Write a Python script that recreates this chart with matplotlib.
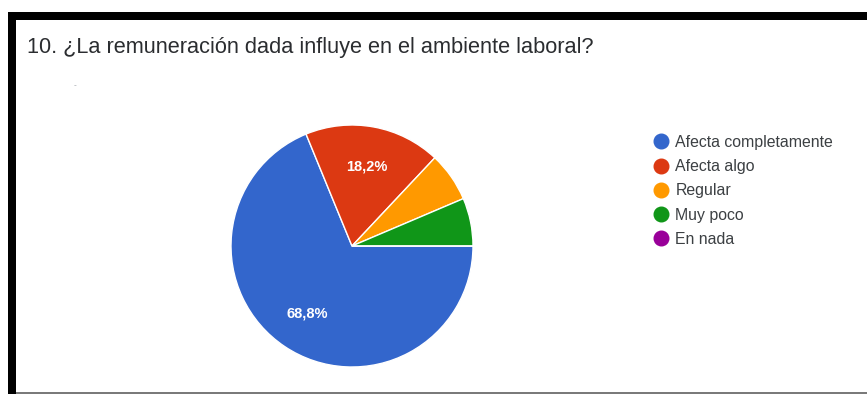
import numpy as np
import matplotlib.pyplot as plt
from matplotlib.lines import Line2D
from matplotlib.patches import Rectangle

plt.rcParams['font.family'] = ['Liberation Sans', 'DejaVu Sans']

TITLE = "10. ¿La remuneración dada influye en el ambiente laboral?"
categories = ["Afecta completamente", "Afecta algo", "Regular", "Muy poco", "En nada"]
percentages = [68.8, 18.2, 6.6, 6.4, 0.0]
shown_labels = ["68,8%", "18,2%", "", "", ""]
colors = ["#3366cc", "#dc3912", "#ff9900", "#109618", "#990099"]

W, H = 867, 394
fig = plt.figure(figsize=(W / 100, H / 100), dpi=100)
fig.patch.set_facecolor("white")

# frame around the card: thick black top and left edges, thin grey bottom
frame = fig.add_axes([0, 0, 1, 1])
frame.set_xlim(0, W)
frame.set_ylim(H, 0)
frame.axis("off")
frame.add_patch(Rectangle((8, 12), W - 8, 8, color="black", lw=0))
frame.add_patch(Rectangle((8, 12), 8, H - 12, color="black", lw=0))
frame.add_patch(Rectangle((16, 391.5), W - 16, 2.5, color="#7a7a7a", lw=0))

fig.text(27 / W, 1 - 48 / H, TITLE, fontsize=15.7, color="#2b2d30",
         va="center", ha="left")
fig.text(75 / W, 1 - 86 / H, "-", fontsize=6, color="#9aa0a6",
         va="center", ha="center")

# pie, starting at 3 o'clock and going clockwise
cx, cy, r = 352, 246, 121
ax = fig.add_axes([(cx - r) / W, 1 - (cy + r) / H, 2 * r / W, 2 * r / H])
wedges, _ = ax.pie(percentages, colors=colors, startangle=0, counterclock=False,
                   radius=1.0, wedgeprops=dict(edgecolor="white", linewidth=1.0))
ax.set_xlim(-1, 1)
ax.set_ylim(-1, 1)
ax.set_aspect("equal")
ax.axis("off")

start = 0.0
for pct, lbl in zip(percentages, shown_labels):
    mid = np.deg2rad(start - pct * 3.6 / 2)
    start -= pct * 3.6
    if lbl:
        ax.text(0.67 * np.cos(mid), 0.67 * np.sin(mid), lbl, color="white",
                fontsize=10.5, fontweight="bold", ha="center", va="center")

handles = [Line2D([], [], marker="o", linestyle="none", markersize=10.5,
                  markerfacecolor=c, markeredgecolor=c) for c in colors]
fig.legend(handles, categories, loc="upper left",
           bbox_to_anchor=(654 / W, 1 - 135 / H), frameon=False,
           fontsize=11.4, labelcolor="#3c4043", handletextpad=0.45,
           handlelength=0.9, labelspacing=0.58, borderpad=0, borderaxespad=0)

fig.savefig("out.png", dpi=100)
